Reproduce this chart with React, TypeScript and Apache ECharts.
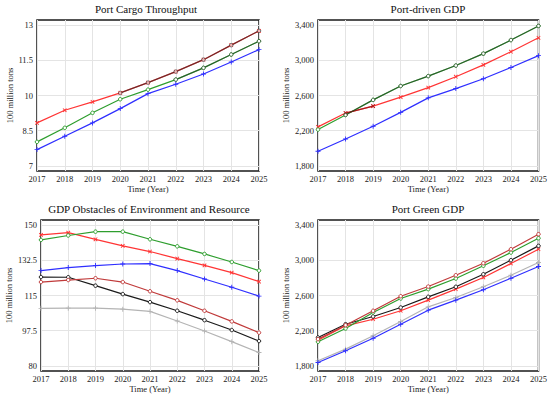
import React, { useEffect, useRef } from "react";
import * as echarts from "echarts";

const years = ["2017", "2018", "2019", "2020", "2021", "2022", "2023", "2024", "2025"];

// Panel 1: Port Cargo Throughput
const cargoTicks = [7, 8.5, 10, 11.5, 13];
const cargoBlue = [7.69, 8.26, 8.83, 9.44, 10.08, 10.48, 10.92, 11.43, 11.96];
const cargoRed = [8.83, 9.37, 9.73, 10.11, 10.55, 11.02, 11.53, 12.15, 12.76];
const cargoGreen = [8.02, 8.62, 9.26, 9.84, 10.25, 10.68, 11.18, 11.75, 12.32];
const cargoBlack = [null, null, null, 10.11, 10.55, 11.02, 11.53, 12.15, 12.76];
const cargoDark = [null, null, null, null, null, 10.68, 11.18, 11.75, 12.32];

// Panel 2: Port-driven GDP
const gdpTicks = [1800, 2200, 2600, 3000, 3400];
const gdpBlue = [1965, 2104, 2250, 2408, 2573, 2679, 2791, 2919, 3054];
const gdpRed = [2243, 2400, 2479, 2581, 2690, 2814, 2949, 3099, 3257];
const gdpGreen = [2212, 2378, 2550, 2708, 2821, 2941, 3077, 3231, 3392];
const gdpDarkRed = [null, 2400, 2479, null, null, null, null, null, null];
const gdpBlack = [null, 2378, 2550, 2708, 2821, 2941, 3077, 3231, 3392];

// Panel 3: GDP Obstacles of Environment and Resource
const obsTicks = [80, 97.5, 115, 132.5, 150];
const obsGreen = [142.7, 144.9, 146.8, 146.8, 143.0, 139.5, 135.7, 131.7, 127.4];
const obsRed = [145.2, 146.3, 143.0, 139.7, 136.9, 133.4, 130.0, 126.4, 121.9];
const obsBlue = [127.4, 128.9, 129.9, 130.7, 130.9, 127.4, 123.2, 119.1, 114.7];
const obsDarkRed = [121.7, 122.7, 123.6, 121.7, 117.1, 112.6, 107.4, 102.1, 96.5];
const obsBlack = [124.2, 124.1, 119.9, 115.7, 111.7, 107.4, 102.7, 97.8, 92.3];
const obsGray = [108.6, 108.7, 108.7, 108.2, 107.1, 102.3, 97.3, 92.0, 86.6];

// Panel 4: Port Green GDP
const greenTicks = [1800, 2200, 2600, 3000, 3400];
const greenDarkRed = [2103, 2262, 2426, 2592, 2702, 2831, 2968, 3127, 3298];
const greenGreen = [2073, 2224, 2407, 2566, 2672, 2793, 2938, 3089, 3252];
const greenBlack = [2122, 2273, 2361, 2463, 2585, 2699, 2842, 3002, 3165];
const greenRed = [2091, 2255, 2330, 2426, 2547, 2672, 2805, 2964, 3127];
const greenGray = [1857, 1989, 2141, 2304, 2471, 2577, 2699, 2831, 2976];
const greenBlue = [1837, 1971, 2114, 2273, 2433, 2547, 2665, 2797, 2930];

const FONT = "'Liberation Serif', 'Times New Roman', serif";
const BLUE = "#2f2fff";
const RED = "#ff3535";
const GREEN = "#2e9e2e";
const BLACK = "#1a1a1a";
const DARKRED = "#c03a3a";
const GRAY = "#b4b4b4";

const PLUS =
  "path://M-1,-0.18L-0.18,-0.18L-0.18,-1L0.18,-1L0.18,-0.18L1,-0.18L1,0.18L0.18,0.18L0.18,1L-0.18,1L-0.18,0.18L-1,0.18Z";
const RING = "circle";

const grids = [
  { left: 37, top: 20, width: 222, height: 151 },
  { left: 318, top: 20, width: 221, height: 151 },
  { left: 41, top: 220, width: 218, height: 151 },
  { left: 318, top: 220, width: 221, height: 151 },
];

function yRange(ticks: number[]) {
  const span = ticks[ticks.length - 1] - ticks[0];
  const pad = span * 0.0373;
  return { min: ticks[0] - pad, max: ticks[ticks.length - 1] + pad };
}

function fmtComma(v: number) {
  return v.toLocaleString("en-US");
}

export default function App() {
  const ref = useRef<HTMLDivElement>(null);
  useEffect(() => {
    if (!ref.current) return;
    const chart = echarts.init(ref.current, undefined, { renderer: "svg" });

    const tickSets = [cargoTicks, gdpTicks, obsTicks, greenTicks];
    const fmts = [
      (v: number) => String(v),
      fmtComma,
      (v: number) => String(v),
      fmtComma,
    ];

    const xAxis = grids.map((_, i) => ({
      type: "category",
      gridIndex: i,
      data: years,
      boundaryGap: false,
      axisLine: { show: false },
      axisTick: { show: false },
      axisLabel: { fontFamily: FONT, fontSize: 8.5, color: "#222", margin: 3, interval: 0 },
      splitLine: { show: true, lineStyle: { color: "#e4e4e4", width: 1, type: "solid" } },
      name: "Time (Year)",
      nameLocation: "middle",
      nameGap: 13,
      nameTextStyle: { fontFamily: FONT, fontSize: 8.5, color: "#222" },
    }));

    const yAxis = grids.map((_, i) => {
      const r = yRange(tickSets[i]);
      return {
        type: "value",
        gridIndex: i,
        min: r.min,
        max: r.max,
        axisLine: { show: false },
        axisTick: { show: false, customValues: tickSets[i] },
        axisLabel: {
          fontFamily: FONT,
          fontSize: 8.5,
          color: "#222",
          margin: 4,
          customValues: tickSets[i],
          formatter: fmts[i],
        },
        splitLine: { show: true, lineStyle: { color: "#e4e4e4", width: 1, type: "solid" } },
        name: "100 million tons",
        nameLocation: "middle",
        nameGap: i === 2 ? 26 : i === 0 ? 23 : 25,
        nameTextStyle: { fontFamily: FONT, fontSize: 8.5, color: "#222" },
      };
    });

    const mk = (
      gi: number,
      data: (number | null)[],
      color: string,
      symbol: string,
      opacity = 1,
      rotate = 0
    ) => ({
      type: "line",
      xAxisIndex: gi,
      yAxisIndex: gi,
      data,
      symbol,
      symbolSize: symbol === PLUS ? 5 : 3.5,
      symbolRotate: rotate,
      showSymbol: true,
      connectNulls: false,
      lineStyle: { color, width: 1.2, opacity, type: "solid" },
      itemStyle:
        symbol === PLUS
          ? { color, opacity }
          : { color: "#ffffff", borderColor: color, borderWidth: 1, borderType: "solid", opacity },
      emphasis: { disabled: true },
      z: 2,
    });

    const series = [
      mk(0, cargoBlue, BLUE, PLUS),
      mk(0, cargoGreen, GREEN, RING),
      mk(0, cargoRed, RED, PLUS, 1, 45),
      mk(0, cargoBlack, BLACK, RING, 0.6),
      mk(0, cargoDark, BLACK, RING, 0.45),

      mk(1, gdpBlue, BLUE, PLUS),
      mk(1, gdpRed, RED, PLUS, 1, 45),
      mk(1, gdpGreen, GREEN, RING),
      mk(1, gdpDarkRed, "#8a1010", PLUS, 0.7, 45),
      mk(1, gdpBlack, BLACK, RING, 0.45),

      mk(2, obsGray, GRAY, PLUS),
      mk(2, obsBlack, BLACK, RING),
      mk(2, obsDarkRed, DARKRED, RING),
      mk(2, obsBlue, BLUE, PLUS),
      mk(2, obsRed, RED, PLUS, 1, 45),
      mk(2, obsGreen, GREEN, RING),

      mk(3, greenGray, GRAY, PLUS),
      mk(3, greenBlue, BLUE, PLUS),
      mk(3, greenRed, RED, PLUS, 1, 45),
      mk(3, greenBlack, BLACK, RING),
      mk(3, greenGreen, GREEN, RING),
      mk(3, greenDarkRed, DARKRED, RING),
    ];

    const titles = [
      { text: "Port Cargo Throughput", x: 146, y: 9 },
      { text: "Port-driven GDP", x: 428, y: 9 },
      { text: "GDP Obstacles of Environment and Resource", x: 149, y: 209 },
      { text: "Port Green GDP", x: 428, y: 209 },
    ];

    chart.setOption({
      animation: false,
      backgroundColor: "#ffffff",
      grid: grids.map((g) => ({
        ...g,
        show: true,
        borderColor: "#1a1a1a",
        borderWidth: 1.5,
        backgroundColor: "transparent",
        containLabel: false,
      })),
      xAxis,
      yAxis,
      series,
      graphic: titles.map((t) => ({
        type: "text",
        x: t.x,
        y: t.y,
        style: {
          text: t.text,
          fontFamily: FONT,
          fontSize: 11,
          fontWeight: "normal",
          fill: "#111",
          textAlign: "center",
          textVerticalAlign: "middle",
        },
      })),
    });

    return () => chart.dispose();
  }, []);

  return (
    <div
      ref={ref}
      style={{ position: "fixed", left: 0, top: 0, width: 550, height: 394, background: "#fff" }}
    />
  );
}
